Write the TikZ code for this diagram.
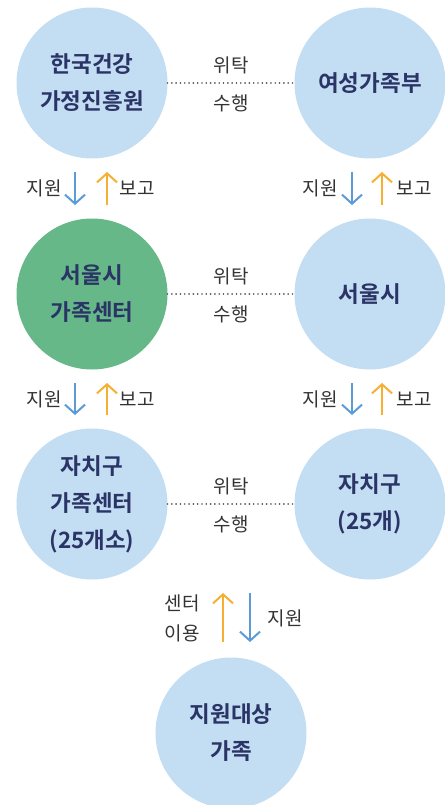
\documentclass[tikz,border=0pt]{standalone}
\usepackage{fontspec}
\setmainfont{Noto Sans CJK KR}[BoldFont={Noto Sans CJK KR Bold}]
\usetikzlibrary{arrows.meta}
\definecolor{paleblue}{HTML}{C3DDF2}
\definecolor{seoulgreen}{HTML}{67B888}
\definecolor{navy}{HTML}{2A3466}
\definecolor{arrowblue}{HTML}{5B9BD6}
\definecolor{arroworange}{HTML}{F6AF30}
\definecolor{labelgray}{HTML}{333333}
\definecolor{dotgray}{HTML}{555555}

\begin{document}
\begin{tikzpicture}[
            x=1pt, y=-1pt,
            org/.style={circle, fill=paleblue, minimum size=151pt, inner sep=0pt, outer sep=0pt,
                align=center, text=navy, font=\bfseries\fontsize{22.5}{37}\selectfont},
            link/.style={draw=dotgray, line width=1.8pt, dash pattern=on 0.01pt off 4.3pt, line cap=round},
            lbl/.style={text=labelgray, font=\fontsize{19}{20}\selectfont, inner sep=0pt},
            down/.style={draw=arrowblue, line width=2pt, -{Straight Barb[length=9pt,width=20pt]}},
            up/.style={draw=arroworange, line width=2pt, -{Straight Barb[length=9pt,width=20pt]}}
        ]
            \useasboundingbox (0,0) rectangle (444,805);

            % circles
            \node[org] (kihf) at (92,83) {한국건강\\가정진흥원};
            \node[org] (mogef) at (370,83) {여성가족부};
            \node[org, fill=seoulgreen] (seoulctr) at (92,294) {서울시\\가족센터};
            \node[org] (seoul) at (370,294) {서울시};
            \node[org] (guctr) at (92,504) {자치구\\가족센터\\(25개소)};
            \node[org] (gu) at (370,504) {자치구\\(25개)};
            \node[org] (family) at (231,733) {지원대상\\가족};

            % consignment lines
            \draw[link] (kihf) -- (mogef)
                node[lbl, midway, yshift=18pt] {위탁} node[lbl, midway, yshift=-20pt] {수행};
            \draw[link] (seoulctr) -- (seoul)
                node[lbl, midway, yshift=18pt] {위탁} node[lbl, midway, yshift=-20pt] {수행};
            \draw[link] (guctr) -- (gu)
                node[lbl, midway, yshift=18pt] {위탁} node[lbl, midway, yshift=-20pt] {수행};

            % support / report arrows
            \coordinate (la1) at (75,172);  \coordinate (lb1) at (75,205);
            \coordinate (lc1) at (107,205); \coordinate (ld1) at (107,172);
            \coordinate (ra1) at (352,172); \coordinate (rb1) at (352,205);
            \coordinate (rc1) at (382,205); \coordinate (rd1) at (382,172);
            \coordinate (la2) at (75,383);  \coordinate (lb2) at (75,415);
            \coordinate (lc2) at (107,415); \coordinate (ld2) at (107,383);
            \coordinate (ra2) at (352,383); \coordinate (rb2) at (352,415);
            \coordinate (rc2) at (382,415); \coordinate (rd2) at (382,383);

            \draw[down] (la1) -- (lb1);
            \draw[up] (lc1) -- (ld1);
            \draw[down] (ra1) -- (rb1);
            \draw[up] (rc1) -- (rd1);
            \draw[down] (la2) -- (lb2);
            \draw[up] (lc2) -- (ld2);
            \draw[down] (ra2) -- (rb2);
            \draw[up] (rc2) -- (rd2);

            \node[lbl] (sup1l) at (44,188) {지원};
            \node[lbl] (rep1l) at (137,188) {보고};
            \node[lbl] (sup1r) at (320,188) {지원};
            \node[lbl] (rep1r) at (414,188) {보고};
            \node[lbl] (sup2l) at (44,399) {지원};
            \node[lbl] (rep2l) at (137,399) {보고};
            \node[lbl] (sup2r) at (320,399) {지원};
            \node[lbl] (rep2r) at (414,399) {보고};

            % family arrows
            \coordinate (fa) at (223,642); \coordinate (fb) at (223,593);
            \coordinate (fc) at (250,593); \coordinate (fd) at (250,642);
            \draw[up] (fa) -- (fb);
            \draw[down] (fc) -- (fd);
            \node[lbl] (use1) at (182,603) {센터};
            \node[lbl] (use2) at (182,633) {이용};
            \node[lbl] (sup3) at (285,618) {지원};
        \end{tikzpicture}
\end{document}
